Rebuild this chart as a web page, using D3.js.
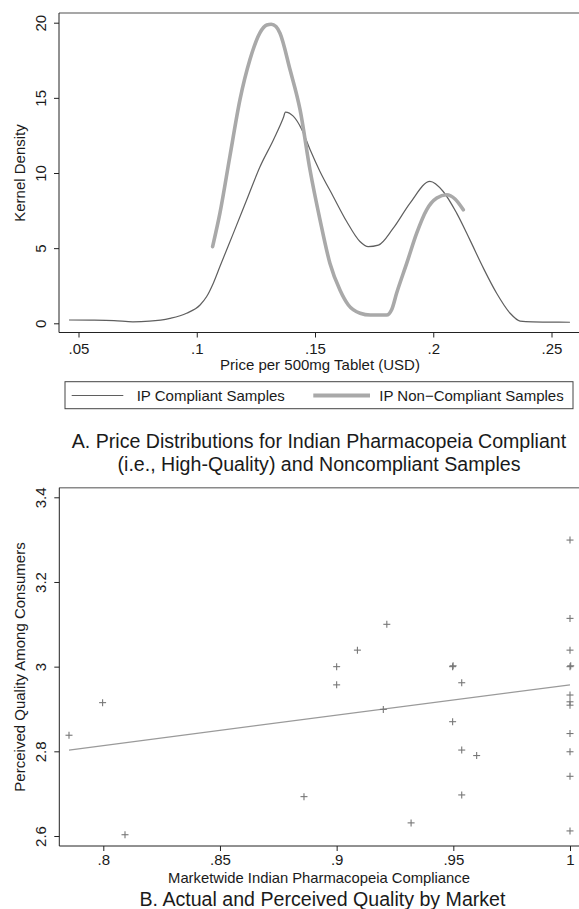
<!DOCTYPE html>
<html>
<head>
<meta charset="utf-8">
<script src="https://cdn.jsdelivr.net/npm/d3@7"></script>
<style>
  html, body { margin: 0; padding: 0; background: #fff; }
  svg { display: block; font-family: "Liberation Sans", Arial, Helvetica, sans-serif; }
</style>
</head>
<body>
<svg id="chart" width="579" height="909"></svg>
<script>
// ---------- Panel A data (kernel densities) ----------
const compliantPrice = [0.046, 0.055, 0.065, 0.073, 0.080, 0.0887, 0.0957, 0.1014, 0.1042, 0.107, 0.1098, 0.1155, 0.1211, 0.1267, 0.1324, 0.1366, 0.1375, 0.1408, 0.1444, 0.1479, 0.1521, 0.1577, 0.1634, 0.169, 0.1725, 0.1768, 0.1831, 0.1902, 0.1986, 0.2042, 0.2099, 0.2155, 0.2212, 0.2268, 0.2325, 0.2367, 0.242, 0.248, 0.2578];
const compliantDensity = [0.22, 0.21, 0.18, 0.10, 0.14, 0.33, 0.67, 1.22, 1.78, 2.67, 3.78, 6.0, 8.2, 10.4, 12.2, 13.67, 14.05, 13.78, 12.9, 11.56, 10.1, 8.44, 6.77, 5.44, 5.1, 5.2, 6.33, 8.0, 9.44, 8.77, 7.33, 5.55, 3.67, 2.0, 0.67, 0.15, 0.09, 0.08, 0.07];

const noncompPrice = [0.1067, 0.1098, 0.114, 0.1183, 0.1225, 0.1267, 0.1296, 0.1315, 0.1335, 0.1352, 0.1394, 0.1437, 0.1479, 0.1521, 0.1563, 0.1606, 0.1641, 0.1691, 0.1734, 0.1803, 0.1824, 0.1845, 0.1888, 0.193, 0.1972, 0.2015, 0.2057, 0.2092, 0.2127];
const noncompDensity = [5.1, 7.33, 11.1, 14.9, 17.55, 19.33, 19.85, 19.9, 19.75, 19.3, 16.9, 14.2, 10.2, 6.9, 4.0, 2.2, 1.22, 0.67, 0.55, 0.55, 0.9, 2.0, 4.0, 6.0, 7.55, 8.33, 8.55, 8.27, 7.55];

const xTicksA = [0.05, 0.10, 0.15, 0.20, 0.25];
const xTickLabelsA = [".05", ".1", ".15", ".2", ".25"];
const yTicksA = [0, 5, 10, 15, 20];
const yTickLabelsA = ["0", "5", "10", "15", "20"];
const legendLabels = ["IP Compliant Samples", "IP Non\u2212Compliant Samples"];

// ---------- Panel B data (scatter) ----------
const compliance = [0.7853, 0.7997, 0.8093, 0.886, 0.900, 0.900, 0.9089, 0.920, 0.9215, 0.9319, 0.9497, 0.9499, 0.9497, 0.9536, 0.9536, 0.9536, 0.960,
  1, 1, 1, 1, 1.0003, 1, 1, 1, 1, 1, 1, 1];
const perceived = [2.838, 2.915, 2.603, 2.693, 3.000, 2.957, 3.039, 2.899, 3.100, 2.631, 3.000, 3.002, 2.870, 2.962, 2.803, 2.697, 2.790,
  3.299, 3.114, 3.039, 3.000, 3.002, 2.933, 2.917, 2.909, 2.842, 2.799, 2.741, 2.612];
const fitX = [0.7853, 1.0];
const fitY = [2.803, 2.957];

const xTicksB = [0.80, 0.85, 0.90, 0.95, 1.00];
const xTickLabelsB = [".8", ".85", ".9", ".95", "1"];
const yTicksB = [2.6, 2.8, 3.0, 3.2, 3.4];
const yTickLabelsB = ["2.6", "2.8", "3", "3.2", "3.4"];

const titleA = ["A. Price Distributions for Indian Pharmacopeia Compliant", "(i.e., High-Quality) and Noncompliant Samples"];
const titleB = "B. Actual and Perceived Quality by Market";
const xTitleA = "Price per 500mg Tablet (USD)";
const yTitleA = "Kernel Density";
const xTitleB = "Marketwide Indian Pharmacopeia Compliance";
const yTitleB = "Perceived Quality Among Consumers";

// ---------- Drawing ----------
const svg = d3.select("#chart");
const textColor = "#1a1a1a";
const fs = 15;

function frame(g, left, right, top, bottom) {
  g.append("line").attr("x1", left).attr("x2", right).attr("y1", top).attr("y2", top)
    .attr("stroke", "#8a8a8a").attr("stroke-width", 1.4);
  g.append("line").attr("x1", left).attr("x2", left).attr("y1", top).attr("y2", bottom)
    .attr("stroke", "#222").attr("stroke-width", 1);
  g.append("line").attr("x1", left).attr("x2", right).attr("y1", bottom).attr("y2", bottom)
    .attr("stroke", "#222").attr("stroke-width", 1);
}

function axes(g, x, y, xt, xl, yt, yl, left, bottom, labelY) {
  const ax = d3.axisBottom(x).tickValues(xt).tickSize(5).tickPadding(0)
    .tickFormat((d, i) => xl[i]);
  const gx = g.append("g").attr("transform", `translate(0,${bottom})`).call(ax);
  gx.select(".domain").remove();
  gx.selectAll(".tick line").attr("stroke", "#222");
  gx.selectAll(".tick text").attr("y", labelY).attr("dy", null)
    .attr("font-size", fs).attr("fill", textColor).attr("font-family", null);

  const ay = d3.axisLeft(y).tickValues(yt).tickSize(5).tickPadding(0)
    .tickFormat((d, i) => yl[i]);
  const gy = g.append("g").attr("transform", `translate(${left},0)`).call(ay);
  gy.select(".domain").remove();
  gy.selectAll(".tick line").attr("stroke", "#222");
  gy.selectAll(".tick text").attr("x", 0).attr("dy", null).attr("y", 0)
    .attr("transform", "translate(-13.5,0) rotate(-90)")
    .attr("text-anchor", "middle")
    .attr("font-size", fs).attr("fill", textColor).attr("font-family", null);
}

// Panel A
const gA = svg.append("g");
const xA = d3.scaleLinear().domain([0.05, 0.25]).range([78.5, 551.5]);
const yA = d3.scaleLinear().domain([0, 20]).range([323.3, 22.7]);
frame(gA, 59, 579, 13, 332.5);
axes(gA, xA, yA, xTicksA, xTickLabelsA, yTicksA, yTickLabelsA, 59, 332.5, 21.5);

const lineA = d3.line().x(d => xA(d[0])).y(d => yA(d[1])).curve(d3.curveMonotoneX);
gA.append("path").datum(compliantPrice.map((p, i) => [p, compliantDensity[i]]))
  .attr("d", lineA).attr("fill", "none").attr("stroke", "#5f5f5f").attr("stroke-width", 1.2);
gA.append("path").datum(noncompPrice.map((p, i) => [p, noncompDensity[i]]))
  .attr("d", lineA).attr("fill", "none").attr("stroke", "#a9a9a9").attr("stroke-width", 3.6)
  .attr("stroke-linecap", "round").attr("stroke-linejoin", "round");

gA.append("text").attr("x", 320).attr("y", 369.5).attr("text-anchor", "middle")
  .attr("font-size", fs).attr("fill", textColor).text(xTitleA);
gA.append("text").attr("transform", "translate(25,173) rotate(-90)").attr("text-anchor", "middle")
  .attr("font-size", fs).attr("fill", textColor).text(yTitleA);

// Legend
const lg = gA.append("g");
lg.append("rect").attr("x", 65).attr("y", 381.7).attr("width", 508).attr("height", 27)
  .attr("fill", "#fff").attr("stroke", "#444").attr("stroke-width", 1);
lg.append("line").attr("x1", 71.7).attr("x2", 123.3).attr("y1", 395.5).attr("y2", 395.5)
  .attr("stroke", "#5f5f5f").attr("stroke-width", 1.2);
lg.append("text").attr("x", 136.7).attr("y", 401).attr("font-size", fs).attr("fill", textColor).text(legendLabels[0]);
lg.append("line").attr("x1", 313.3).attr("x2", 370).attr("y1", 395.5).attr("y2", 395.5)
  .attr("stroke", "#a9a9a9").attr("stroke-width", 3.8);
lg.append("text").attr("x", 379.3).attr("y", 401).attr("font-size", fs).attr("fill", textColor).text(legendLabels[1]);

gA.selectAll(".titleA").data(titleA).enter().append("text")
  .attr("x", 319).attr("y", (d, i) => 448 + i * 23).attr("text-anchor", "middle")
  .attr("font-size", 19.6).attr("fill", textColor).text(d => d);

// Panel B
const gB = svg.append("g");
const xB = d3.scaleLinear().domain([0.8, 1.0]).range([103.3, 570]);
const yB = d3.scaleLinear().domain([2.6, 3.4]).range([836, 497.3]);
frame(gB, 59.3, 579, 487.7, 846);
axes(gB, xB, yB, xTicksB, xTickLabelsB, yTicksB, yTickLabelsB, 59.3, 846, 19.3);

gB.append("path").datum(fitX.map((v, i) => [v, fitY[i]]))
  .attr("d", d3.line().x(d => xB(d[0])).y(d => yB(d[1])))
  .attr("fill", "none").attr("stroke", "#9a9a9a").attr("stroke-width", 1.2);

const cs = 3.5;
const pts = gB.selectAll(".pt").data(compliance.map((v, i) => [v, perceived[i]])).enter().append("g")
  .attr("transform", d => `translate(${xB(d[0])},${yB(d[1])})`);
pts.append("line").attr("x1", -cs).attr("x2", cs).attr("y1", 0).attr("y2", 0)
  .attr("stroke", "#777").attr("stroke-width", 1.1);
pts.append("line").attr("x1", 0).attr("x2", 0).attr("y1", -cs).attr("y2", cs)
  .attr("stroke", "#777").attr("stroke-width", 1.1);

gB.append("text").attr("x", 319).attr("y", 883.2).attr("text-anchor", "middle")
  .attr("font-size", 14.8).attr("fill", textColor).text(xTitleB);
gB.append("text").attr("transform", "translate(25,667) rotate(-90)").attr("text-anchor", "middle")
  .attr("font-size", fs).attr("fill", textColor).text(yTitleB);
gB.append("text").attr("x", 322.5).attr("y", 906).attr("text-anchor", "middle")
  .attr("font-size", 19.6).attr("fill", textColor).text(titleB);
</script>
</body>
</html>
